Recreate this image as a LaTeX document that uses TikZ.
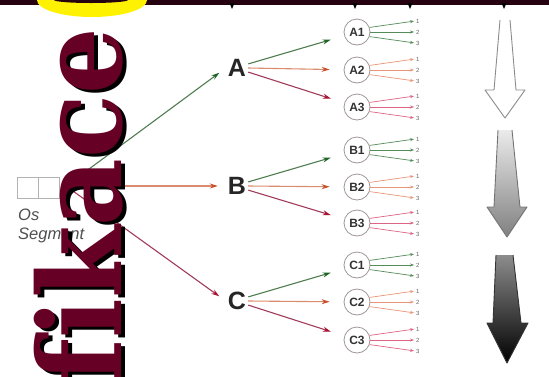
\documentclass[tikz,border=0pt]{standalone}
\usepackage{fontspec}
\setmainfont{Liberation Sans}
\newfontfamily\bigserif[Ligatures={NoCommon},FakeStretch=0.91]{DejaVu Serif}
\usetikzlibrary{arrows.meta}
\definecolor{band}{RGB}{38,2,16}
\definecolor{titlered}{RGB}{102,0,36}
\definecolor{gline}{RGB}{80,125,80}
\definecolor{gtip}{RGB}{30,100,40}
\definecolor{oline}{RGB}{220,140,110}
\definecolor{otip}{RGB}{200,80,40}
\definecolor{rline}{RGB}{160,60,90}
\definecolor{rtip}{RGB}{170,20,50}
\definecolor{fg}{RGB}{85,140,90}
\definecolor{fo}{RGB}{232,150,120}
\definecolor{fr}{RGB}{222,100,135}
\definecolor{txtgray}{RGB}{80,80,80}
\definecolor{cgray}{RGB}{160,150,150}
\begin{document}
\begin{tikzpicture}[x=1pt,y=-1pt,
  lbl/.style={font=\fontsize{25}{25}\selectfont\bfseries, text=black!85, inner sep=2pt},
  circ/.style={circle, draw=cgray, line width=0.8pt, minimum size=26pt, inner sep=0pt,
    font=\fontsize{12}{12}\selectfont\bfseries, text=black!80},
  num/.style={font=\fontsize{6}{6}\selectfont, text=black!60, inner sep=1pt, anchor=west},
  sq/.style={draw=black!30, line width=0.8pt, minimum size=21pt, inner sep=0pt},
  os/.style={font=\fontsize{16.5}{16.5}\selectfont\itshape, text=txtgray, inner sep=0pt, anchor=base west},
  garr/.style={draw=gline, line width=1.1pt, -{Stealth[length=8pt,width=5pt,color=gtip]}},
  oarr/.style={draw=oline, line width=1.1pt, -{Stealth[length=8pt,width=5pt,color=otip]}},
  rarr/.style={draw=rline, line width=1.1pt, -{Stealth[length=8pt,width=5pt,color=rtip]}},
  fan/.style={draw=#1, line width=0.7pt, -{Stealth[length=4pt,width=3pt]}, shorten >=1pt},
  bigtxt/.style={font=\fontsize{115}{115}\selectfont\bigserif\bfseries, inner sep=0pt, rotate=90, anchor=base east}
]
\useasboundingbox (0,0) rectangle (549,376);
\clip (0,0) rectangle (549,376);
\fill[white] (0,0) rectangle (549,376);

% top band with ring
\fill[band] (0,0) rectangle (549,5);
\fill[yellow] (92,0) ellipse [x radius=55, y radius=17];
\fill[band] (91,0) ellipse [x radius=37, y radius=3];
\foreach \x in {232,355,410,504}
  \fill[black] (\x-2.5,3) -- (\x+2.5,3) -- (\x,9) -- cycle;

% origin
\node[sq] (s1) at (27.5,187.5) {};
\node[sq] (s2) at (49,187.5) {};
\coordinate (O) at (66,186);
\node[os] (os1) at (18,220) {Os};
\node[os] (os2) at (18,239) {Segment};

% level one
\node[lbl] (A) at (237,68) {A};
\node[lbl] (B) at (237,186) {B};
\node[lbl] (C) at (237,301) {C};
\draw[garr, shorten >=8pt] (O) -- (A.west);
\draw[oarr, shorten >=8pt] (O) -- (B.west);
\draw[rarr, shorten >=8pt] (O) -- (C.west);

% level two
\foreach \g/\ya/\yb/\yc in {A/32/70/107, B/150/187/223, C/265/302/340} {
  \node[circ] (\g1) at (357,\ya) {\g1};
  \node[circ] (\g2) at (357,\yb) {\g2};
  \node[circ] (\g3) at (357,\yc) {\g3};
  \draw[garr, shorten >=14pt] (\g.20) -- (\g1);
  \draw[oarr, shorten >=14pt] (\g.east) -- (\g2);
  \draw[rarr, shorten >=14pt] (\g.-20) -- (\g3);
}

% level three
\foreach \cc/\col in {A1/fg, A2/fo, A3/fr, B1/fg, B2/fo, B3/fr, C1/fg, C2/fo, C3/fr} {
  \foreach \k/\dy/\ang in {1/-11/20, 2/0/0, 3/11/-20} {
    \path (\cc.center) ++(58,\dy) node[num] (\cc n\k) {\k};
    \draw[fan=\col] (\cc.\ang) -- (\cc n\k.west);
  }
}

% big arrows
\fill[white] (500,20) -- (494,90) -- (485,90) -- (505,118) -- (525,90) -- (516,90) -- (510,20) -- cycle;
\draw[black!45, line width=0.9pt, line join=round] (500,20) -- (494,90) -- (485,90) -- (505,118) -- (525,90) -- (516,90) -- (510,20);
\shade[top color=black!8, bottom color=black!50] (498,130) -- (494,207) -- (487,207) -- (507,237) -- (527,207) -- (520,207) -- (512,130) -- cycle;
\draw[black!55, line width=0.9pt, line join=round] (498,130) -- (494,207) -- (487,207) -- (507,237) -- (527,207) -- (520,207) -- (512,130);
\shade[top color=black!45, bottom color=black] (496,255) -- (493,323) -- (487,323) -- (507,363) -- (528,323) -- (521,323) -- (513,255) -- cycle;
\draw[black!80, line width=0.9pt, line join=round] (496,255) -- (493,323) -- (487,323) -- (507,363) -- (528,323) -- (521,323) -- (513,255);

% vertical title
\node[bigtxt, text=black] (tshadow) at (125,31) {fikace};
\node[bigtxt, text=titlered] (title) at (121,28) {fikace};
\end{tikzpicture}
\end{document}
